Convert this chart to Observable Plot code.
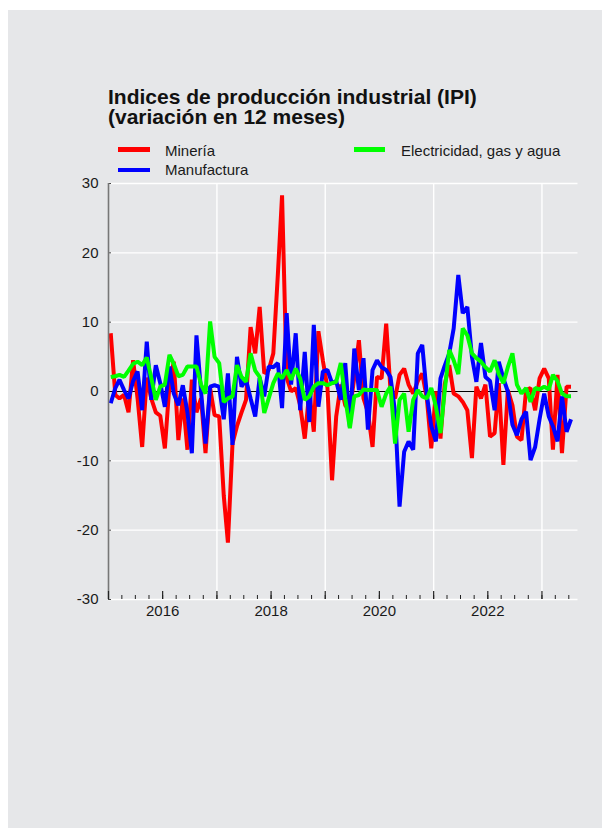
<!DOCTYPE html>
<html><head><meta charset="utf-8">
<script src="https://cdn.jsdelivr.net/npm/d3@7"></script>
<script src="https://cdn.jsdelivr.net/npm/@observablehq/plot@0.6"></script>
<style>
html,body{margin:0;padding:0;background:#fff;}
#page{position:relative;width:610px;height:831px;overflow:hidden;font-family:"Liberation Sans",Arial,Helvetica,sans-serif;color:#1a1a1a;}
#panel{position:absolute;left:8px;top:10px;width:594px;height:818px;background:#e6e7e9;}
.t{position:absolute;white-space:nowrap;line-height:1;}
.title{position:absolute;white-space:nowrap;font-weight:bold;font-size:21px;line-height:20.3px;color:#111;left:108px;top:86.6px;}
.leg{font-size:15px;}
.sw{position:absolute;height:4.5px;}
#chart{position:absolute;left:0;top:176px;}
</style></head>
<body>
<div id="page"><div id="panel"></div>
<div class="title">Indices de producción industrial (IPI)<br>(variación en 12 meses)</div>
<div id="legend"></div>
<div id="chart"></div>
</div>
<script>
// ---- data ----
const series = ["Minería", "Manufactura", "Electricidad, gas y agua"];
const startYear = 2015; // first month: Jan 2015, monthly through Jul 2023
const mineria = [8.4,-0.5,-1,-0.5,-3,4.5,-1,-8,2,-1,-3,-3.5,-8.2,1,4.3,-7,-1,-8.4,1.7,-3,
  -1,-8.9,0.5,-3.4,-3.6,-15,-21.8,-7.5,-5,-3,-1.2,9.3,5.5,12.2,2.6,3.1,5.5,17,28.3,2,
  0,0.5,-2,-6.8,0,-5.8,8.7,4.5,0.5,-12.8,-3.6,1,-2,-2.7,2,7.4,-1,-3,-8,2.1,
  1.9,9.8,0.2,-1,2.4,3.3,1,-0.3,1.5,2.6,-1,-8.2,0,-6.8,1,3.8,-0.3,-0.7,-1.5,-2.7,
  -9.6,0.7,-1,1,-6.5,-6,1.2,-10.6,0.2,-2,-6.5,-7,0.2,0.5,-2.7,1.9,3.3,1.9,-8.4,2.4,
  -8.9,0.7,0.7];
const manufactura = [-1.7,0.5,1.7,0.2,-1,1.5,2.9,-2.7,7.2,-1.2,3.8,1.2,-2.2,3.6,-0.3,-2,0.9,-3,-8.9,8.1,
  0,-7.5,0.7,0.9,0.7,-4,2.6,-7.7,5,0.7,1.7,-1,-3.6,2,-0.7,3.6,3.5,4.1,-2.4,11.3,
  1,8.4,-2.7,5.7,-4.4,9.6,-2.2,2.9,3.1,1.2,1.5,-1.2,4.1,-5.1,6.2,0.2,4.8,-5.5,3.1,4.5,
  3.5,3.1,2.1,-3,-16.6,-8.7,-7.2,-8.4,5.5,6.7,-0.5,-5,-7.2,1.9,3.7,5.5,9.1,16.8,11.3,12.2,
  5,1.4,7,2.1,1.5,-2.7,4.3,1.9,0,-4.8,-6.3,-4,-2.9,-9.9,-8,-4,-0.3,-3.6,-5,-7.2,
  -0.7,-5.8,-4];
const electricidad = [2.1,2.2,2.4,2.1,3,4,4.3,3.8,4.9,2,-1.2,0.7,1,5.3,4,2.2,2.4,3.6,3.6,3.6,
  1,-0.3,10.1,5,4.1,-1.5,-1,-0.7,3.8,2.1,1.4,5.5,3,2.1,-3.1,-1,1.2,2.6,1.9,3.1,
  1.7,3.3,1.9,-1.2,-0.7,0.7,1.2,1.2,0.9,1.2,1.4,4.1,-1,-5.3,-0.7,-0.5,0.3,0.2,0.2,0.2,
  -2.2,-0.3,0.7,-7.5,-1.2,-0.3,-5.8,-1.2,0.2,-0.7,-1,0.5,-2.2,-6,0,6,4.5,2.5,9.1,8.1,
  5.5,4.8,4.3,3.5,2.9,4.5,2.5,1.2,3.5,5.5,1,-0.3,0.5,-1.5,0.5,0.3,0.7,0.3,2.4,1.5,
  -0.3,-0.7,-0.7];
const yTicks = [-30,-20,-10,0,10,20,30];
const xLabelYears = [2016, 2018, 2020, 2022];
const gridYears = [2017, 2019, 2021, 2023];

// ---- styles ----
const colors = ["#ff0000", "#0000ff", "#00ff00"];
const font = '"Liberation Sans", Arial, Helvetica, sans-serif';

// ---- legend ----
const legendPos = [
  {sx:118, sw:32, sy:147, tx:165, ty:143.3},
  {sx:118, sw:32, sy:167.8, tx:165, ty:162.3},
  {sx:354, sw:31, sy:147, tx:401, ty:143.3}
];
const legend = document.getElementById("legend");
series.forEach((name, k) => {
  const p = legendPos[k];
  const s = document.createElement("div");
  s.className = "sw";
  s.style.cssText = `left:${p.sx}px;top:${p.sy}px;width:${p.sw}px;background:${colors[k]}`;
  legend.appendChild(s);
  const t = document.createElement("div");
  t.className = "t leg";
  t.style.cssText = `left:${p.tx}px;top:${p.ty}px`;
  t.textContent = name;
  legend.appendChild(t);
});

// ---- table ----
const allValues = [mineria, manufactura, electricidad];
const rows = [];
series.forEach((name, k) => allValues[k].forEach((v, i) =>
  rows.push({date: new Date(Date.UTC(startYear, i, 16)), value: v, serie: name})));

const x0 = new Date(Date.UTC(startYear, 0, 1));
const x1 = new Date(Date.UTC(startYear, mineria.length + 1, 1));
const quarterTicks = d3.utcMonth.every(3).range(x0, x1);
const yearTicks = d3.utcYear.range(x0, x1);
const gridX = gridYears.map(y => new Date(Date.UTC(y, 0, 1)));
const labelX = xLabelYears.map(y => new Date(Date.UTC(y, 0, 1)));

const H = 460, mT = 7, mB = 37, mL = 108, mR = 32.5;
const frameH = H - mT - mB, frameW = 610 - mL - mR;

const chart = Plot.plot({
  width: 610, height: H,
  marginTop: mT, marginBottom: mB, marginLeft: mL, marginRight: mR,
  style: {background: "transparent", fontFamily: font, fontSize: "15px", color: "#1a1a1a", overflow: "visible"},
  x: {type: "utc", domain: [x0, x1]},
  y: {domain: [-30, 30]},
  color: {domain: series, range: colors},
  marks: [
    Plot.ruleY(yTicks.filter(d => d !== 0), {stroke: "#ffffff", strokeWidth: 1.4}),
    Plot.ruleX(gridX, {stroke: "#ffffff", strokeWidth: 1.4}),
    Plot.ruleY(yTicks, {stroke: "#444", strokeWidth: 1, insetRight: frameW - 3}),
    Plot.ruleY([0], {stroke: "#000", strokeWidth: 1}),
    Plot.lineY(rows, {x: "date", y: "value", stroke: "serie", strokeWidth: 4, strokeLinejoin: "miter", strokeLinecap: "butt"}),
    Plot.ruleX([x0], {stroke: "#777", strokeWidth: 1.6}),
    Plot.ruleX(quarterTicks, {stroke: "#222", strokeWidth: 1, insetTop: frameH - 4}),
    Plot.ruleX(yearTicks, {stroke: "#222", strokeWidth: 1.2, insetTop: frameH - 8}),
    Plot.axisX({ticks: labelX, tickSize: 0, tickPadding: 6, tickFormat: d3.utcFormat("%Y"), label: null}),
    Plot.axisY({ticks: yTicks, tickSize: 0, tickPadding: 10, tickFormat: d => String(d), label: null})
  ]
});
document.getElementById("chart").appendChild(chart);
</script>
</body></html>
